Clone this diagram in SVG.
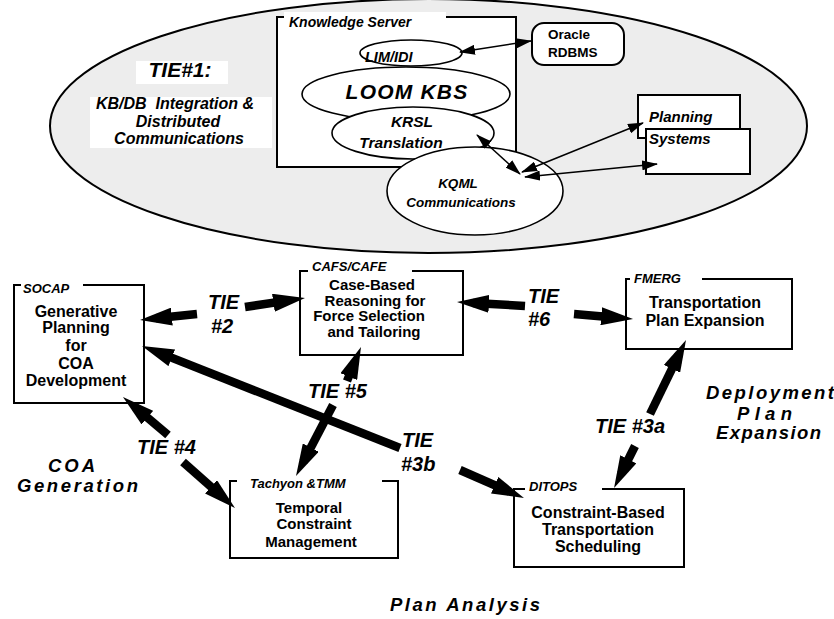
<svg xmlns="http://www.w3.org/2000/svg" width="834" height="619" viewBox="0 0 834 619">
<defs>
<style>
text{font-family:"Liberation Sans",Arial,Helvetica,sans-serif;font-weight:bold;fill:#000}
.i{font-style:italic}
.c{text-anchor:middle}
.box{fill:#fff;stroke:#000;stroke-width:2}
.ell{fill:#fff;stroke:#000;stroke-width:1.6}
.gap{fill:#fff;stroke:none}
.thin{stroke:#000;stroke-width:1.5;fill:none}
.thick{stroke:#000;stroke-width:8.5;fill:none}
.lab{font-size:20px;font-style:italic}
.reg{font-size:18.5px;font-style:italic}
.tag{font-size:13px;font-style:italic}
.body{font-size:16px}
</style>
<marker id="sa" viewBox="0 0 16 10" markerWidth="16" markerHeight="10" refX="15" refY="5" orient="auto-start-reverse" markerUnits="userSpaceOnUse"><path d="M0,0 L16,5 L0,10 Z" fill="#000"/></marker>
<marker id="ba" viewBox="0 0 32 18" markerWidth="32" markerHeight="18" refX="16" refY="9" orient="auto" markerUnits="userSpaceOnUse"><path d="M0,0 L32,9 L0,18 Z" fill="#000"/></marker>
</defs>
<rect x="0" y="0" width="834" height="619" fill="#fff"/>

<g id="tie1-region">
<ellipse cx="428.5" cy="126" rx="378.5" ry="127" fill="#ededed" stroke="#000" stroke-width="2"/>
<rect class="gap" x="136" y="61" width="92" height="23"/>
<text class="c i" x="180" y="77" font-size="21">TIE#1:</text>
<rect class="gap" x="90" y="97" width="182" height="51"/>
<text class="c i" x="175" y="109" font-size="16" style="white-space:pre">KB/DB  Integration &amp;</text>
<text class="c i" x="178" y="127" font-size="16">Distributed</text>
<text class="c i" x="179" y="144" font-size="16">Communications</text>
</g>

<g id="knowledge-server">
<rect class="box" x="277" y="17" width="239" height="150"/>
<rect class="gap" x="284" y="12" width="162" height="12"/>
<text class="i" x="289" y="27" font-size="14">Knowledge Server</text>
</g>

<g id="lim-idi">
<ellipse class="ell" cx="411" cy="53" rx="51" ry="13"/>
<text class="i" x="365" y="62" font-size="14.5">LIM/IDI</text>
</g>

<g id="loom-kbs">
<ellipse class="ell" cx="406" cy="94" rx="104" ry="27"/>
<text class="c i" x="407" y="99" font-size="21" letter-spacing="1.2">LOOM KBS</text>
</g>

<g id="krsl">
<ellipse class="ell" cx="413" cy="133" rx="81" ry="26"/>
<text class="c i" x="412" y="127" font-size="15.5">KRSL</text>
<text class="c i" x="401" y="148" font-size="15.5">Translation</text>
</g>

<g id="kqml">
<ellipse class="ell" cx="475" cy="191" rx="88" ry="44"/>
<text class="c i" x="458" y="188" font-size="13.5">KQML</text>
<text class="c i" x="461" y="207" font-size="13.5">Communications</text>
</g>

<g id="oracle">
<rect class="box" x="532" y="23" width="92" height="42" rx="12"/>
<text x="548" y="39" font-size="13.5">Oracle</text>
<text x="548" y="57" font-size="13.5">RDBMS</text>
</g>

<g id="planning-systems">
<rect class="box" x="638" y="95" width="102" height="43"/>
<rect class="box" x="646" y="129" width="104" height="45"/>
<text class="i" x="649" y="122" font-size="15">Planning</text>
<text class="i" x="649" y="144" font-size="15">Systems</text>
</g>

<g id="socap">
<rect class="box" x="14" y="285" width="130" height="118"/>
<rect class="gap" x="21" y="280" width="62" height="9"/>
<text class="tag" x="23" y="293">SOCAP</text>
<text class="c body" x="76" y="317">Generative</text>
<text class="c body" x="76" y="333">Planning</text>
<text class="c body" x="76" y="351">for</text>
<text class="c body" x="76" y="369">COA</text>
<text class="c body" x="76" y="386">Development</text>
</g>

<g id="cafs-cafe">
<rect class="box" x="300" y="271" width="163" height="84"/>
<rect class="gap" x="308" y="266" width="104" height="9"/>
<text class="tag" x="312" y="271">CAFS/CAFE</text>
<text class="c" x="372" y="290" font-size="15">Case-Based</text>
<text class="c" x="375" y="305.5" font-size="15">Reasoning for</text>
<text class="c" x="369" y="321" font-size="15">Force Selection</text>
<text class="c" x="374" y="336.5" font-size="15">and Tailoring</text>
</g>

<g id="fmerg">
<rect class="box" x="626" y="279" width="166" height="70"/>
<rect class="gap" x="630" y="274" width="72" height="9"/>
<text class="tag" x="634" y="283">FMERG</text>
<text class="c body" x="705" y="308">Transportation</text>
<text class="c body" x="705" y="326">Plan Expansion</text>
</g>

<g id="tachyon">
<rect class="box" x="230" y="481" width="168" height="77"/>
<rect class="gap" x="237" y="476" width="145" height="9"/>
<text class="tag" x="250" y="488">Tachyon &amp;TMM</text>
<text class="c" x="309" y="513" font-size="15">Temporal</text>
<text class="c" x="314" y="529" font-size="15">Constraint</text>
<text class="c" x="311" y="547" font-size="15">Management</text>
</g>

<g id="ditops">
<rect class="box" x="514" y="489" width="170" height="78"/>
<rect class="gap" x="525" y="484" width="77" height="9"/>
<text class="tag" x="529" y="491">DITOPS</text>
<text class="c body" x="598" y="518">Constraint-Based</text>
<text class="c body" x="598" y="535">Transportation</text>
<text class="c body" x="598" y="552">Scheduling</text>
</g>

<g id="connectors">
<line class="thin" x1="460" y1="52" x2="531" y2="41" marker-start="url(#sa)" marker-end="url(#sa)"/>
<line class="thin" x1="477" y1="135" x2="520" y2="174" marker-start="url(#sa)" marker-end="url(#sa)"/>
<line class="thin" x1="522" y1="172" x2="643" y2="123" marker-start="url(#sa)" marker-end="url(#sa)"/>
<line class="thin" x1="525" y1="177" x2="657" y2="164" marker-start="url(#sa)" marker-end="url(#sa)"/>

<line class="thick" x1="197" y1="314" x2="155.9" y2="318.3" marker-end="url(#ba)"/>
<line class="thick" x1="245" y1="307" x2="289.2" y2="300.4" marker-end="url(#ba)"/>
<line class="thick" x1="525" y1="306" x2="473" y2="302.9" marker-end="url(#ba)"/>
<line class="thick" x1="574" y1="314" x2="617.1" y2="317.7" marker-end="url(#ba)"/>
<line class="thick" x1="650" y1="414" x2="679" y2="354.4" marker-end="url(#ba)"/>
<line class="thick" x1="635" y1="446" x2="621.2" y2="473.7" marker-end="url(#ba)"/>
<line class="thick" x1="400" y1="448" x2="156.9" y2="351.9" marker-end="url(#ba)"/>
<line class="thick" x1="460" y1="470" x2="509.3" y2="491.6" marker-end="url(#ba)"/>
<line class="thick" x1="347" y1="381" x2="354.9" y2="361.8" marker-end="url(#ba)"/>
<line class="thick" x1="333" y1="405" x2="303.4" y2="461.8" marker-end="url(#ba)"/>
<line class="thick" x1="168" y1="435" x2="135.2" y2="407.3" marker-end="url(#ba)"/>
<line class="thick" x1="183" y1="462" x2="223" y2="497.4" marker-end="url(#ba)"/>

<text class="lab" x="208" y="309">TIE</text>
<text class="lab" x="211" y="333">#2</text>
<text class="lab" x="528" y="303">TIE</text>
<text class="lab" x="528" y="326">#6</text>
<text class="lab" x="595" y="433">TIE #3a</text>
<text class="lab" x="402" y="447">TIE</text>
<text class="lab" x="401" y="471">#3b</text>
<text class="lab" x="308" y="398">TIE #5</text>
<text class="lab" x="137" y="454">TIE #4</text>
</g>

<g id="region-labels">
<text class="reg" x="48" y="472" textLength="47" lengthAdjust="spacing">COA</text>
<text class="reg" x="17" y="492" textLength="121" lengthAdjust="spacing">Generation</text>
<text class="reg" x="706" y="399" textLength="128" lengthAdjust="spacing">Deployment</text>
<text class="reg" x="737" y="420" textLength="55" lengthAdjust="spacing">Plan</text>
<text class="reg" x="716" y="439" textLength="105" lengthAdjust="spacing">Expansion</text>
<text class="reg" x="390" y="611" textLength="150" lengthAdjust="spacing">Plan Analysis</text>
</g>
</svg>
